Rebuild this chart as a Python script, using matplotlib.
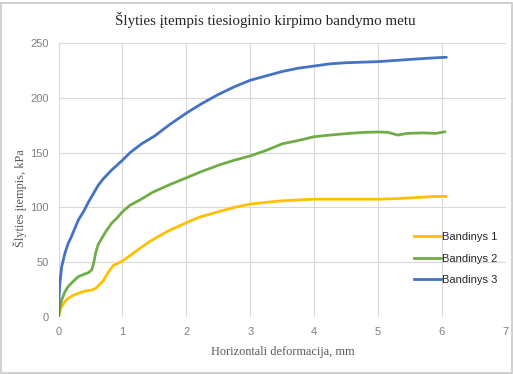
import matplotlib
matplotlib.use("Agg")
import matplotlib.pyplot as plt
from matplotlib.patches import Rectangle
from matplotlib.lines import Line2D

# Bandinys 1 (yellow)
x1 = [0, 0.02, 0.05, 0.1, 0.15, 0.22, 0.31, 0.4, 0.52, 0.58, 0.65, 0.7, 0.78, 0.86,
      1.0, 1.12, 1.2, 1.43, 1.7, 2.0, 2.2, 2.5, 2.75, 3.0, 3.31, 3.5, 4.0, 4.25, 4.5,
      5.0, 5.3, 5.6, 5.9, 6.07]
y1 = [0, 5, 9.4, 14, 17, 19.5, 21.6, 23.5, 24.6, 26, 30, 33, 41, 47,
      51, 56, 59.5, 69, 78, 86, 91, 96, 100, 103, 105, 106, 107.5, 107.5, 107.5,
      107.5, 108, 109, 110, 110]

# Bandinys 2 (green)
x2 = [0, 0.02, 0.05, 0.1, 0.15, 0.22, 0.31, 0.4, 0.47, 0.52, 0.55, 0.58, 0.62, 0.68,
      0.73, 0.83, 0.91, 1.0, 1.12, 1.28, 1.48, 1.75, 2.0, 2.25, 2.53, 2.75, 3.0, 3.25,
      3.5, 3.75, 4.0, 4.25, 4.56, 4.8, 5.0, 5.15, 5.31, 5.45, 5.7, 5.9, 6.05]
y2 = [0, 8, 15.5, 23, 27.7, 32, 36.8, 39, 40.5, 43, 49, 58, 66, 72,
      77, 85.5, 90, 96, 102, 107, 114, 121, 127, 133, 139, 143, 147, 152,
      158, 161, 164.5, 166, 167.6, 168.5, 168.8, 168.5, 166, 167.5, 168, 167.5, 169]

# Bandinys 3 (blue)
x3 = [0, 0.01, 0.02, 0.05, 0.1, 0.15, 0.2, 0.31, 0.4, 0.47, 0.55, 0.62, 0.7, 0.83,
      1.0, 1.12, 1.3, 1.5, 1.75, 2.0, 2.25, 2.5, 2.75, 3.0, 3.25, 3.5, 3.75, 4.0,
      4.25, 4.5, 4.75, 5.0, 5.25, 5.5, 5.75, 6.07]
y3 = [0, 20, 30, 46, 58, 67, 73, 88.5, 97, 105, 113, 120, 126, 134,
      143, 150, 158, 165, 176, 186, 195, 203, 210, 216, 220, 224, 227, 229,
      231, 232, 232.5, 233, 234, 235, 236, 237]

series_labels = ["Bandinys 1", "Bandinys 2", "Bandinys 3"]
series_colors = ["#FFC000", "#70AD47", "#4472C4"]
x_ticks = [0, 1, 2, 3, 4, 5, 6, 7]
y_ticks = [0, 50, 100, 150, 200, 250]

title = "Šlyties įtempis tiesioginio kirpimo bandymo metu"
x_label = "Horizontali deformacija, mm"
y_label = "Šlyties įtempis, kPa"

W, H = 513, 374
fig = plt.figure(figsize=(W / 100, H / 100), dpi=100)
ax = fig.add_axes([58.5 / W, 1 - 317 / H, (505.8 - 58.5) / W, (317 - 43) / H])

for xs, ys, c in zip([x1, x2, x3], [y1, y2, y3], series_colors):
    ax.plot(xs, ys, color=c, lw=2.0, solid_capstyle="round", solid_joinstyle="round")

ax.set_xlim(0, 7)
ax.set_ylim(0, 250)
ax.set_xticks(x_ticks)
ax.set_yticks(y_ticks)
ax.grid(True, color="#D9D9D9", lw=0.8)
ax.set_axisbelow(True)
for s in ax.spines.values():
    s.set_visible(False)
ax.tick_params(length=0, labelsize=8, labelcolor="#7F7F7F", pad=7)
for lab in ax.get_xticklabels() + ax.get_yticklabels():
    lab.set_family("Liberation Sans")

fig.text(0.5 * (110 + 421) / W, 1 - 20 / H, title, ha="center", va="center",
         family="Liberation Serif", fontsize=10.8, color="#262626")
fig.text(283 / W, 1 - 352.5 / H, x_label, ha="center", va="center",
         family="Liberation Serif", fontsize=8.8, color="#595959")
fig.text(20 / W, 1 - 198 / H, y_label, ha="center", va="center", rotation=90,
         family="Liberation Serif", fontsize=8.8, color="#595959")

handles = [Line2D([0], [0], color=c, lw=2.0) for c in series_colors]
leg = fig.legend(handles, series_labels, loc="upper left",
                 bbox_to_anchor=(404 / W, 1 - 222 / H), frameon=False,
                 handlelength=2.4, handletextpad=0.15, labelspacing=1.05,
                 prop={"family": "Liberation Sans", "size": 8})
for t in leg.get_texts():
    t.set_color("#262626")

fig.add_artist(Rectangle((0.5 / W, 1.5 / H), (W - 1.5) / W, (H - 4) / H,
                         transform=fig.transFigure, fill=False,
                         edgecolor="#C8C8C8", lw=1.2))

fig.savefig("out.png", dpi=100)
